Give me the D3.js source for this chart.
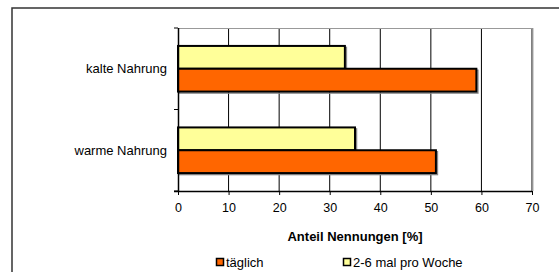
<!DOCTYPE html>
<html><head><meta charset="utf-8">
<script src="https://cdn.jsdelivr.net/npm/d3@7"></script>
<style>body{margin:0;background:#fff}svg{display:block}text{font-family:"Liberation Sans",Arial,sans-serif;font-size:13px;fill:#000}</style>
</head><body><svg id="c" width="559" height="272"></svg>
<script>
const categories = ["kalte Nahrung", "warme Nahrung"];
const seriesNames = ["2-6 mal pro Woche", "täglich"];
const weekly = [33, 35];
const daily = [59, 51];
const xTicks = [0, 10, 20, 30, 40, 50, 60, 70];
const colors = {"täglich": "#FF6600", "2-6 mal pro Woche": "#FFFF99"};
const legendOrder = ["täglich", "2-6 mal pro Woche"];

const svg = d3.select("#c");
const L = 178, R = 532, T = 28, B = 191;
// outer frame
svg.append("path").attr("d", `M12,275 L12,8 L565,8`).attr("fill","none").attr("stroke","#333").attr("stroke-width",1.5);

const x = d3.scaleLinear().domain([0,70]).range([L,R]);
const y = d3.scaleBand().domain(categories).range([T,B]).paddingInner(0.44).paddingOuter(0.22);
const y1 = d3.scaleBand().domain(seriesNames).range([0, y.bandwidth()]);

// grid
svg.append("g").selectAll("line").data(xTicks.slice(1)).join("line")
  .attr("x1", d=>x(d)).attr("x2", d=>x(d)).attr("y1", T).attr("y2", B)
  .attr("stroke", "#000").attr("stroke-width", 1);
// plot border (top/right)
svg.append("line").attr("x1",L).attr("x2",R).attr("y1",T+0.5).attr("y2",T+0.5).attr("stroke","#999").attr("stroke-width",1);
svg.append("line").attr("x1",R+1).attr("x2",R+1).attr("y1",T).attr("y2",B).attr("stroke","#aaa").attr("stroke-width",1);

const data = categories.map((c,i)=>({cat:c, vals:[{s:seriesNames[0], v:weekly[i]},{s:seriesNames[1], v:daily[i]}]}));
const g = svg.append("g");
data.forEach(d=>{
  d.vals.forEach(e=>{
    const yy = y(d.cat) + y1(e.s);
    g.append("rect").attr("x", x(0)+1.5).attr("y", yy+1.5).attr("width", x(e.v)-x(0)).attr("height", y1.bandwidth())
      .attr("fill","none").attr("stroke","#888").attr("stroke-width",1.5);
  });
});
data.forEach(d=>{
  d.vals.forEach(e=>{
    const yy = y(d.cat) + y1(e.s);
    g.append("rect").attr("x", x(0)).attr("y", yy).attr("width", x(e.v)-x(0)).attr("height", y1.bandwidth())
      .attr("fill", colors[e.s]).attr("stroke","#000").attr("stroke-width",2);
  });
});

// x axis
const xa = svg.append("g").attr("transform",`translate(0,${B})`)
  .call(d3.axisBottom(x).tickValues(xTicks).tickSize(4).tickPadding(8));
xa.select(".domain").attr("stroke","#000").attr("stroke-width",1.5).attr("d",`M${L-4},0.5H${R}`);
xa.selectAll(".tick line").attr("stroke","#000");
xa.selectAll("text").style("font-size","12.5px").attr("fill","#000");
// y axis
const ya = svg.append("g").attr("transform",`translate(${L},0)`);
ya.append("line").attr("x1",0.5).attr("x2",0.5).attr("y1",T).attr("y2",B).attr("stroke","#000").attr("stroke-width",1.5);
const yTicks = [T, (T+B)/2, B];
ya.selectAll("line.t").data(yTicks).join("line").attr("class","t")
  .attr("x1",-4).attr("x2",0).attr("y1",d=>d).attr("y2",d=>d).attr("stroke","#000");
ya.selectAll("text").data(categories).join("text")
  .attr("x",-11).attr("y",d=>y(d)+y.bandwidth()/2).attr("dy","0.35em").attr("text-anchor","end")
  .text(d=>d);

svg.append("text").attr("x",355).attr("y",236).attr("dy","0.35em").attr("text-anchor","middle")
  .style("font-weight","bold").text("Anteil Nennungen [%]");

// legend
const lx = [216, 343];
legendOrder.forEach((s,i)=>{
  svg.append("rect").attr("x",lx[i]+0.5).attr("y",258.5).attr("width",7).attr("height",7)
    .attr("fill",colors[s]).attr("stroke","#000").attr("stroke-width",1.5);
  svg.append("text").attr("x",lx[i]+10).attr("y",262).attr("dy","0.35em").text(s);
});
</script></body></html>
